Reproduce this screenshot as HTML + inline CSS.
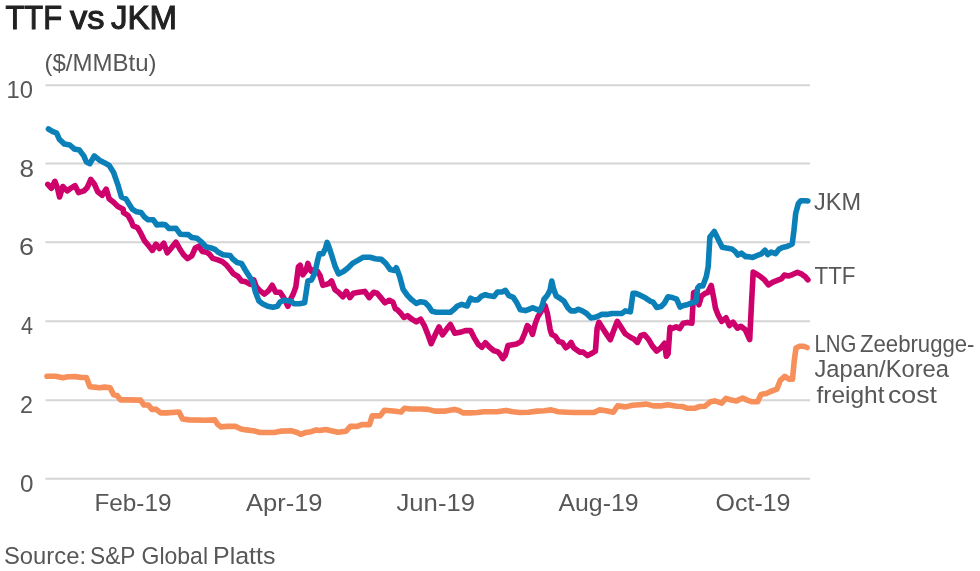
<!DOCTYPE html>
<html><head><meta charset="utf-8"><style>
html,body{margin:0;padding:0;background:#fff;}
body{width:980px;height:571px;overflow:hidden;}
svg{display:block;will-change:transform;font-family:"Liberation Sans",Arial,sans-serif;}
</style></head><body>
<svg width="980" height="571" viewBox="0 0 980 571">
<line x1="45.5" y1="85.2" x2="810" y2="85.2" stroke="#d5d5d5" stroke-width="2"/>
<line x1="45.5" y1="163.6" x2="810" y2="163.6" stroke="#d5d5d5" stroke-width="2"/>
<line x1="45.5" y1="242.2" x2="810" y2="242.2" stroke="#d5d5d5" stroke-width="2"/>
<line x1="45.5" y1="321.2" x2="810" y2="321.2" stroke="#d5d5d5" stroke-width="2"/>
<line x1="45.5" y1="400.2" x2="810" y2="400.2" stroke="#d5d5d5" stroke-width="2"/>
<line x1="45.5" y1="478.7" x2="810" y2="478.7" stroke="#d5d5d5" stroke-width="2"/>
<path d="M47.0,376.3 L55.8,376.3 L62.8,377.7 L68.0,376.8 L75.0,376.6 L82.0,377.5 L86.4,377.5 L89.9,386.8 L94.3,387.1 L99.5,387.7 L104.8,387.1 L110.1,387.7 L113.6,394.7 L117.1,395.5 L120.6,399.9 L125.8,399.9 L140.5,400.1 L144.0,405.0 L148.4,405.0 L151.9,409.4 L156.3,409.4 L160.6,412.9 L166.8,412.9 L179.0,412.0 L182.5,419.0 L189.5,419.9 L205.3,420.3 L214.9,419.9 L217.6,424.3 L221.1,426.9 L227.0,426.4 L235.8,426.4 L241.0,429.0 L246.3,429.9 L253.3,430.8 L260.3,432.5 L267.3,432.5 L274.3,432.5 L281.3,431.1 L291.8,430.8 L297.1,432.5 L300.6,434.3 L305.8,432.5 L311.1,431.7 L316.3,429.9 L319.6,430.4 L325.8,429.5 L331.0,430.8 L338.0,432.2 L345.9,431.3 L350.3,426.4 L357.3,426.4 L361.7,424.6 L369.5,424.6 L372.2,415.9 L380.1,415.9 L384.4,410.3 L390.6,410.8 L395.8,411.2 L401.1,412.0 L404.6,408.2 L410.5,409.0 L421.0,409.0 L428.0,409.4 L435.0,411.1 L445.5,411.1 L454.3,409.4 L459.5,410.8 L463.0,412.9 L470.1,412.9 L477.1,412.5 L484.1,411.7 L491.1,411.7 L497.0,411.7 L505.8,410.4 L512.8,411.7 L519.8,412.5 L528.5,412.2 L537.3,411.1 L544.3,410.8 L551.3,409.9 L558.3,411.7 L567.1,412.2 L574.1,412.5 L587.0,412.5 L594.0,412.5 L599.3,409.9 L606.3,410.8 L613.3,412.2 L617.7,405.9 L625.5,406.9 L632.5,405.2 L639.5,404.7 L646.5,404.1 L653.6,405.9 L660.6,405.9 L667.6,404.7 L677.0,406.2 L682.3,406.5 L687.5,408.3 L694.5,408.3 L699.8,406.5 L705.0,406.2 L710.3,401.8 L714.7,400.9 L721.7,403.2 L726.0,398.3 L731.3,400.1 L736.5,400.9 L742.7,398.0 L747.1,400.1 L752.3,401.8 L757.6,401.8 L761.0,394.4 L766.3,393.6 L770.6,391.5 L776.8,389.2 L780.3,380.4 L784.7,376.4 L789.0,379.2 L792.5,379.2 L794.3,360.3 L796.0,348.0 L799.5,346.3 L803.9,346.3 L807.1,347.5" fill="none" stroke="#f68f5a" stroke-width="5.6" stroke-linejoin="round" stroke-linecap="round"/>
<path d="M47.8,184.4 L51.4,188.3 L54.9,181.3 L57.5,188.3 L59.6,197.0 L62.8,186.5 L67.1,190.9 L70.6,188.3 L75.0,185.6 L78.5,192.6 L83.8,190.9 L87.3,187.4 L90.8,179.5 L94.3,183.9 L97.8,191.8 L102.2,195.3 L106.2,189.1 L109.2,198.8 L113.6,202.3 L117.9,206.6 L123.2,209.3 L123.5,212.7 L127.9,215.4 L131.4,221.5 L133.1,225.9 L137.5,227.6 L141.0,233.7 L144.5,240.7 L148.9,246.0 L152.4,250.4 L155.9,244.1 L159.4,248.5 L163.8,243.2 L167.3,252.8 L171.7,247.4 L176.0,242.1 L180.4,250.0 L183.9,255.1 L187.4,258.6 L191.8,255.9 L195.3,248.0 L198.8,246.2 L202.3,251.4 L206.7,252.3 L209.3,254.1 L212.8,258.4 L217.9,259.9 L222.3,261.7 L226.6,265.2 L230.1,269.5 L233.6,273.9 L238.0,276.5 L241.5,280.9 L245.9,281.8 L250.3,284.4 L253.8,280.0 L256.4,287.0 L259.9,290.6 L264.3,294.1 L268.7,290.6 L272.2,285.3 L275.7,292.3 L280.1,292.3 L283.6,297.6 L287.9,306.3 L290.6,299.3 L293.2,294.1 L295.8,287.0 L298.4,266.9 L300.2,265.2 L302.8,274.8 L306.1,270.4 L307.9,263.4 L309.6,268.7 L311.4,271.3 L314.0,269.5 L317.5,271.3 L320.1,275.7 L322.8,285.3 L326.3,284.4 L328.9,283.5 L331.5,280.9 L335.0,289.7 L338.5,292.3 L342.9,296.7 L346.4,291.4 L349.9,297.6 L353.4,293.2 L358.7,292.3 L364.8,291.4 L369.2,297.6 L373.6,292.3 L377.1,293.2 L381.4,298.4 L384.9,302.8 L389.3,300.2 L392.8,301.9 L395.4,308.9 L397.0,309.5 L400.5,313.0 L404.0,317.4 L407.5,315.7 L411.9,319.2 L416.3,321.8 L420.6,319.2 L424.2,325.3 L427.7,334.1 L431.2,343.7 L434.7,335.8 L439.0,327.0 L442.5,334.9 L446.9,328.8 L450.4,324.4 L454.8,333.2 L460.1,332.3 L465.3,330.6 L470.6,330.6 L474.1,337.6 L478.4,344.6 L481.9,347.2 L485.4,342.8 L489.6,347.2 L494.0,350.7 L497.5,351.6 L500.1,354.2 L502.8,358.6 L505.4,355.1 L508.0,345.5 L512.4,344.7 L516.8,343.9 L521.2,341.3 L524.7,333.4 L527.3,325.6 L529.9,328.2 L532.5,334.4 L535.2,323.9 L537.8,316.9 L540.4,312.6 L543.0,308.2 L545.1,305.6 L547.4,313.5 L550.1,329.3 L551.8,334.6 L555.3,336.3 L558.8,341.6 L562.3,342.4 L565.8,347.7 L568.4,345.9 L571.1,342.4 L573.7,347.7 L579.6,352.1 L583.1,352.1 L587.5,355.6 L591.0,353.8 L595.4,351.2 L597.1,328.4 L598.9,322.3 L603.3,329.3 L606.8,334.6 L610.3,339.8 L613.8,330.2 L617.3,321.4 L620.8,326.7 L625.2,333.7 L630.4,337.2 L633.9,338.9 L637.4,342.4 L640.9,335.4 L644.4,334.6 L648.8,339.8 L652.3,345.9 L656.7,351.1 L661.1,347.6 L664.6,343.2 L666.3,356.3 L668.1,353.7 L670.0,327.4 L671.8,328.6 L676.1,326.8 L679.6,328.6 L683.1,323.3 L687.5,322.4 L691.9,323.2 L693.6,292.6 L696.3,291.7 L698.9,304.8 L701.5,296.0 L705.0,293.4 L707.7,292.5 L711.2,285.4 L713.8,298.5 L715.5,308.2 L718.2,315.2 L721.7,321.3 L726.0,317.8 L729.5,325.6 L733.0,322.1 L737.4,328.2 L740.9,326.3 L745.3,329.8 L749.7,339.5 L751.4,305.3 L753.2,272.1 L755.8,273.7 L760.2,276.3 L764.2,279.6 L768.5,284.9 L772.9,282.1 L777.3,280.4 L781.7,278.6 L784.3,275.1 L788.7,276.0 L793.0,274.3 L797.4,272.4 L801.8,274.2 L805.3,276.8 L807.9,279.9" fill="none" stroke="#cd006c" stroke-width="5.6" stroke-linejoin="round" stroke-linecap="round"/>
<path d="M48.5,129.0 L52.3,131.3 L56.6,133.1 L59.3,139.2 L64.5,144.1 L69.8,145.0 L74.2,148.9 L79.4,150.1 L83.8,155.9 L86.4,162.0 L89.9,163.7 L94.3,155.9 L99.5,160.2 L104.8,162.9 L109.2,165.5 L113.6,172.5 L117.9,184.8 L121.4,197.0 L125.8,198.8 L132.3,209.2 L136.6,211.8 L141.0,212.4 L144.5,217.1 L148.0,219.7 L153.3,219.7 L156.8,224.9 L162.0,224.4 L165.5,224.8 L169.0,228.5 L176.0,228.4 L180.4,234.2 L188.3,234.6 L191.8,237.5 L197.1,238.3 L201.4,241.8 L205.8,246.7 L211.1,247.9 L215.4,249.7 L217.9,252.0 L223.1,254.7 L230.1,255.5 L232.8,259.0 L237.1,262.5 L241.5,263.4 L245.0,269.5 L249.4,276.5 L252.9,281.8 L255.5,292.3 L259.0,301.1 L262.5,303.7 L267.8,306.3 L273.0,307.2 L277.4,306.3 L280.1,301.9 L283.6,300.2 L290.6,301.1 L294.1,303.7 L299.3,303.7 L304.6,302.8 L307.9,280.9 L311.4,280.0 L314.9,273.0 L317.5,260.8 L319.3,253.8 L322.8,253.8 L325.4,248.5 L327.1,242.4 L328.9,246.8 L331.5,254.7 L335.0,266.0 L338.5,273.9 L343.8,271.3 L348.2,267.8 L352.5,263.4 L357.8,260.4 L363.0,257.3 L370.1,257.3 L375.3,258.7 L381.4,259.4 L385.8,263.4 L390.2,269.5 L394.6,270.4 L396.3,267.8 L397.0,269.3 L399.6,276.3 L403.1,289.4 L407.5,295.5 L411.9,299.9 L416.3,303.4 L420.6,301.7 L425.0,302.5 L428.5,306.0 L432.0,311.3 L436.4,312.2 L442.5,312.2 L450.4,312.2 L453.9,309.5 L457.4,306.0 L461.8,304.3 L467.1,306.0 L470.6,298.2 L474.1,299.9 L477.6,299.9 L481.1,296.4 L485.4,294.7 L487.9,295.5 L494.0,296.4 L497.5,292.0 L501.9,292.0 L505.4,290.4 L508.9,295.6 L513.3,297.4 L516.8,302.7 L520.3,309.7 L525.5,310.6 L529.9,309.0 L532.5,307.7 L536.0,309.1 L539.5,310.8 L542.2,305.6 L543.9,299.4 L547.4,295.2 L550.1,289.9 L551.8,281.1 L553.6,289.0 L556.2,296.0 L560.6,298.7 L564.1,301.3 L567.6,307.4 L571.1,310.9 L575.4,310.9 L577.9,309.2 L582.3,310.9 L586.6,313.5 L591.0,317.9 L596.3,317.0 L601.5,314.4 L606.8,314.4 L612.0,313.5 L617.3,313.5 L621.7,313.5 L625.2,310.9 L630.4,311.8 L633.0,293.4 L635.7,293.4 L640.1,295.2 L645.3,297.8 L650.6,301.3 L653.2,302.2 L656.7,307.4 L661.1,306.4 L664.6,302.9 L667.9,296.7 L672.3,297.5 L676.6,299.2 L680.1,307.1 L683.6,305.4 L688.0,304.4 L692.4,302.6 L695.9,301.8 L697.7,287.8 L699.4,285.9 L702.9,285.9 L706.4,276.3 L708.2,266.6 L709.9,236.9 L714.3,231.5 L717.8,238.5 L722.2,247.3 L726.5,248.1 L731.8,248.9 L735.3,251.6 L737.9,255.1 L741.4,253.2 L745.8,256.7 L747.5,256.5 L752.8,257.4 L757.1,255.5 L761.5,253.8 L765.0,250.3 L767.7,254.6 L771.2,252.0 L775.5,253.7 L779.0,249.3 L782.5,247.5 L786.9,246.6 L792.2,244.0 L793.9,230.9 L795.7,213.4 L798.3,203.7 L800.9,200.7 L805.3,200.7 L807.9,201.0" fill="none" stroke="#0b80b8" stroke-width="5.6" stroke-linejoin="round" stroke-linecap="round"/>
<text x="5.5" y="29.29" font-size="34" fill="#222222" stroke="#222222" stroke-width="1.1" textLength="56.5" lengthAdjust="spacingAndGlyphs">TTF</text>
<text x="70.0" y="29.29" font-size="34" fill="#222222" stroke="#222222" stroke-width="1.1" textLength="34.5" lengthAdjust="spacingAndGlyphs">vs</text>
<text x="111.0" y="29.29" font-size="34" fill="#222222" stroke="#222222" stroke-width="1.1" textLength="66.0" lengthAdjust="spacingAndGlyphs">JKM</text>
<text x="44.5" y="70.86" font-size="24.5" fill="#575757" textLength="112.0" lengthAdjust="spacingAndGlyphs">($/MMBtu)</text>
<text x="6.5" y="98.36" font-size="24.5" fill="#575757" textLength="26.5" lengthAdjust="spacingAndGlyphs">10</text>
<text x="19.5" y="176.86" font-size="24.5" fill="#575757" textLength="14.5" lengthAdjust="spacingAndGlyphs">8</text>
<text x="19.0" y="255.36" font-size="24.5" fill="#575757" textLength="15.0" lengthAdjust="spacingAndGlyphs">6</text>
<text x="21.0" y="334.36" font-size="24.5" fill="#575757" textLength="12.0" lengthAdjust="spacingAndGlyphs">4</text>
<text x="20.0" y="413.36" font-size="24.5" fill="#575757" textLength="13.0" lengthAdjust="spacingAndGlyphs">2</text>
<text x="20.0" y="492.36" font-size="24.5" fill="#575757" textLength="13.5" lengthAdjust="spacingAndGlyphs">0</text>
<text x="94.5" y="511.36" font-size="24.5" fill="#575757" textLength="77.0" lengthAdjust="spacingAndGlyphs">Feb-19</text>
<text x="246.0" y="511.36" font-size="24.5" fill="#575757" textLength="76.5" lengthAdjust="spacingAndGlyphs">Apr-19</text>
<text x="396.5" y="511.36" font-size="24.5" fill="#575757" textLength="78.5" lengthAdjust="spacingAndGlyphs">Jun-19</text>
<text x="558.5" y="511.36" font-size="24.5" fill="#575757" textLength="80.0" lengthAdjust="spacingAndGlyphs">Aug-19</text>
<text x="715.5" y="511.36" font-size="24.5" fill="#575757" textLength="75.0" lengthAdjust="spacingAndGlyphs">Oct-19</text>
<text x="814.0" y="209.86" font-size="24.5" fill="#575757" textLength="47.0" lengthAdjust="spacingAndGlyphs">JKM</text>
<text x="814.5" y="283.86" font-size="24.5" fill="#575757" textLength="41.0" lengthAdjust="spacingAndGlyphs">TTF</text>
<text x="814.5" y="351.86" font-size="24.5" fill="#575757" textLength="42.0" lengthAdjust="spacingAndGlyphs">LNG</text>
<text x="860.0" y="351.86" font-size="24.5" fill="#575757" textLength="114.5" lengthAdjust="spacingAndGlyphs">Zeebrugge-</text>
<text x="814.5" y="376.86" font-size="24.5" fill="#575757" textLength="134.5" lengthAdjust="spacingAndGlyphs">Japan/Korea</text>
<text x="816.5" y="402.86" font-size="24.5" fill="#575757" textLength="68.0" lengthAdjust="spacingAndGlyphs">freight</text>
<text x="888.0" y="402.86" font-size="24.5" fill="#575757" textLength="49.0" lengthAdjust="spacingAndGlyphs">cost</text>
<text x="4.0" y="563.86" font-size="24.5" fill="#575757" textLength="82.0" lengthAdjust="spacingAndGlyphs">Source:</text>
<text x="90.0" y="563.86" font-size="24.5" fill="#575757" textLength="45.5" lengthAdjust="spacingAndGlyphs">S&amp;P</text>
<text x="141.5" y="563.86" font-size="24.5" fill="#575757" textLength="66.5" lengthAdjust="spacingAndGlyphs">Global</text>
<text x="213.0" y="563.86" font-size="24.5" fill="#575757" textLength="62.5" lengthAdjust="spacingAndGlyphs">Platts</text>
</svg>
</body></html>
